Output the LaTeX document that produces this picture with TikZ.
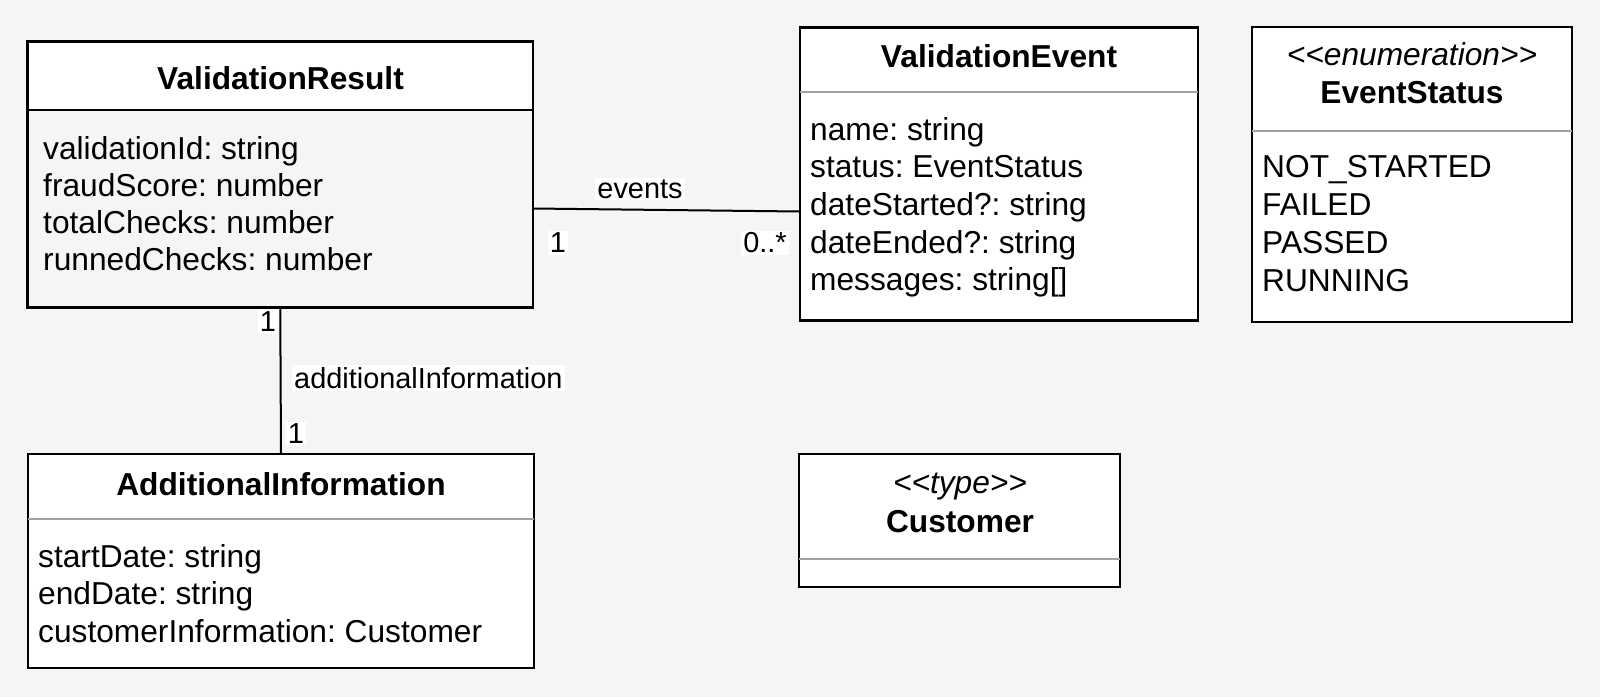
\documentclass[tikz,border=0pt]{standalone}
\usepackage{fontspec}
\setmainfont{Liberation Sans}
\newcommand{\umlfs}{\fontsize{31.7}{37.7}\selectfont}
\newcommand{\umllblfs}{\fontsize{28.9}{34}\selectfont}
\definecolor{bgc}{HTML}{F5F5F5}
\definecolor{sepgray}{HTML}{A0A0A0}
\frenchspacing
\begin{document}
\begin{tikzpicture}[x=1pt,y=-1pt,
  box/.style={draw=black,line width=2.3pt,fill=white,rectangle,inner sep=0pt,outer sep=0pt,anchor=north west},
  sepline/.style={draw=sepgray,line width=2pt},
  attr/.style={anchor=base west,inner sep=0pt,font=\umlfs},
  ttl/.style={anchor=base,inner sep=0pt,font=\umlfs\bfseries},
  ster/.style={anchor=base,inner sep=0pt,font=\umlfs\itshape},
  lbl/.style={fill=white,inner sep=2pt,font=\umllblfs},
  conn/.style={draw=black,line width=2pt}]

\fill[bgc] (0,0) rectangle (1600,697);

% ---------- boxes ----------
\node[box,fill=bgc,minimum width=505.5pt,minimum height=266pt] (vr) at (27.5,41.5) {};
\fill[white] (28.65,42.65) rectangle (531.85,110);
\draw[black,line width=2pt] (vr.west |- 0,110) -- (vr.east |- 0,110);

\node[box,minimum width=398pt,minimum height=293pt] (ve) at (800,27.5) {};
\draw[sepline] (ve.west |- 0,91.5) -- (ve.east |- 0,91.5);

\node[box,minimum width=320pt,minimum height=295pt] (es) at (1252,27) {};
\draw[sepline] (es.west |- 0,131) -- (es.east |- 0,131);

\node[box,minimum width=321pt,minimum height=133pt] (cu) at (799,454) {};
\draw[sepline] (cu.west |- 0,559) -- (cu.east |- 0,559);

\node[box,minimum width=506pt,minimum height=214pt] (ai) at (28,454) {};
\draw[sepline] (ai.west |- 0,519) -- (ai.east |- 0,519);

% ---------- connectors ----------
\draw[conn] ([yshift=-167pt]vr.north east) -- ([yshift=-184pt]ve.north west);
\draw[conn] (vr.south) -- (ai.north);

% ---------- texts ----------
\node[ttl] (vrT) at (280.5,89) {ValidationResult};
\node[attr] (vrA1) at (43,159) {validationId: string};
\node[attr] (vrA2) at (43,196) {fraudScore: number};
\node[attr] (vrA3) at (43,233) {totalChecks: number};
\node[attr] (vrA4) at (43,270) {runnedChecks: number};

\node[ttl] (veT) at (999,67) {ValidationEvent};
\node[attr] (veA1) at (810,140) {name: string};
\node[attr] (veA2) at (810,177.7) {status: EventStatus};
\node[attr] (veA3) at (810,215.4) {dateStarted?: string};
\node[attr] (veA4) at (810,253) {dateEnded?: string};
\node[attr] (veA5) at (810,290.7) {messages: string[]};

\node[ster] (esS) at (1412,65) {<{}<enumeration>{}>};
\node[ttl] (esT) at (1412,103) {EventStatus};
\node[attr] (esV1) at (1262,177.5) {NOT\_STARTED};
\node[attr] (esV2) at (1262,215.5) {FAILED};
\node[attr] (esV3) at (1262,253.5) {PASSED};
\node[attr] (esV4) at (1262,291.5) {RUNNING};

\node[ster] (cuS) at (960,493) {<{}<type>{}>};
\node[ttl] (cuT) at (960,532) {Customer};

\node[ttl] (aiT) at (281,495) {AdditionalInformation};
\node[attr] (aiA1) at (38,567) {startDate: string};
\node[attr] (aiA2) at (38,604.7) {endDate: string};
\node[attr] (aiA3) at (38,642.4) {customerInformation: Customer};

% ---------- connector labels ----------
\node[lbl] (lEv) at (640,189) {events};
\node[lbl] (lEv1) at (558,243) {1};
\node[lbl] (lEvN) at (765,243) {0..*};
\node[lbl] (lAi1) at (268,322) {1};
\node[lbl] (lAi2) at (296,434) {1};
\node[lbl,anchor=west] (lAi) at (292,378) {additionalInformation};
\end{tikzpicture}
\end{document}
